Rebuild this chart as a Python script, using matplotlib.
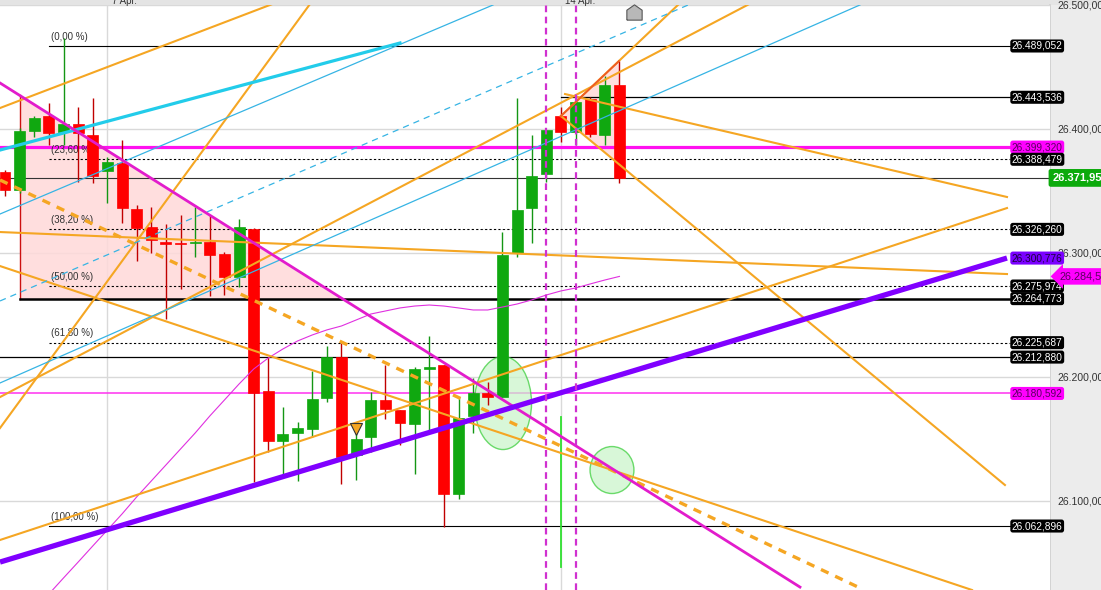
import matplotlib
matplotlib.use("Agg")
import matplotlib.pyplot as plt
from matplotlib.patches import Rectangle, Ellipse, Polygon
from matplotlib.path import Path
from matplotlib.lines import Line2D

plt.rcParams["font.family"] = ["Liberation Sans", "DejaVu Sans"]

# ---- candle data (index 0..42) ----
opens = [26377.2, 26361.2, 26413.6, 26426.9, 26412.7, 26419.8, 26410.0, 26378.1, 26385.2, 26344.3,
         26328.4, 26315.0, 26314.2, 26314.2, 26315.0, 26304.4, 26284.0, 26326.6, 26182.8, 26138.4,
         26145.5, 26149.0, 26176.5, 26213.0, 26125.9, 26141.9, 26174.8, 26165.9, 26153.5, 26202.3,
         26205.8, 26091.3, 26160.6, 26181.0, 26177.4, 26305.3, 26345.2, 26375.4, 26426.9, 26412.7,
         26442.0, 26410.0, 26454.4]
highs = [26379.0, 26416.3, 26426.9, 26438.4, 26496.2, 26434.9, 26442.9, 26390.5, 26405.6, 26347.9,
         26346.1, 26331.0, 26339.0, 26346.1, 26339.0, 26306.2, 26335.5, 26327.5, 26213.0, 26168.6,
         26155.2, 26200.5, 26222.7, 26225.4, 26155.2, 26181.9, 26205.8, 26165.9, 26204.1, 26231.6,
         26205.8, 26177.4, 26194.3, 26190.8, 26323.9, 26442.9, 26410.0, 26414.5, 26434.9, 26443.8,
         26443.8, 26462.4, 26475.7]
lows = [26355.9, 26358.5, 26408.3, 26401.2, 26401.2, 26368.3, 26367.4, 26349.7, 26331.9, 26298.2,
        26305.3, 26246.7, 26273.3, 26301.7, 26267.1, 26268.0, 26275.1, 26102.0, 26128.6, 26109.1,
        26102.9, 26141.9, 26173.0, 26100.2, 26103.7, 26128.6, 26157.9, 26134.8, 26109.1, 26148.1,
        26062.0, 26086.9, 26145.5, 26170.3, 26177.4, 26301.7, 26314.2, 26368.3, 26403.8, 26401.2,
        26408.3, 26401.2, 26367.7]
closes = [26361.2, 26413.6, 26425.1, 26411.8, 26419.8, 26411.8, 26373.6, 26386.1, 26345.2, 26327.5,
          26316.8, 26313.3, 26313.3, 26315.0, 26303.5, 26284.0, 26328.4, 26181.0, 26138.4, 26144.6,
          26149.9, 26175.7, 26213.0, 26124.2, 26140.2, 26174.8, 26166.8, 26154.3, 26202.3, 26204.1,
          26091.3, 26158.8, 26181.0, 26177.4, 26303.5, 26343.4, 26373.6, 26414.5, 26412.7, 26439.3,
          26410.9, 26454.4, 26371.95]

# moving average (thin magenta), candles 3..42
ma_start = 3
ma_values = [26002.5, 26016.8, 26030.9, 26045.2, 26059.4, 26073.6, 26088.7, 26102.9, 26117.1, 26131.3,
             26145.5, 26160.6, 26174.8, 26189.0, 26202.3, 26212.1, 26220.1, 26227.2, 26232.5, 26237.0,
             26240.5, 26245.8, 26251.1, 26253.8, 26256.5, 26258.2, 26259.1, 26258.2, 26256.5, 26254.7,
             26254.7, 26257.3, 26260.0, 26263.6, 26268.0, 26271.6, 26274.2, 26277.8, 26281.3, 26284.5]

# trend lines: (index0, price0, index1, price1)
orange_lines = [(-0.34, 26434.0, 19.0, 26529.9),
                (-0.34, 26149.9, 21.05, 26529.9),
                (-0.34, 26050.5, 68.49, 26345.2),
                (-0.34, 26293.7, 66.1, 26006.1),
                (-0.34, 26323.9, 68.49, 26286.6),
                (38.0, 26426.9, 68.35, 26099.3),
                (38.28, 26446.4, 68.49, 26355.0),
                (-0.34, 26177.4, 51.4, 26529.9),
                (38.0, 26426.9, 46.0, 26525.5)]
orange_dashed = (-0.34, 26370.1, 58.44, 26007.9)
cyan_thick = (-0.34, 26396.7, 27.0, 26491.7)
cyan_thin = [(-0.34, 26339.9, 33.36, 26525.5),
             (-0.34, 26189.9, 58.44, 26525.5)]
cyan_dashed = (-0.34, 26262.7, 46.7, 26525.5)
magenta_line = (-0.34, 26456.2, 54.34, 26008.7)
purple_line = (-0.34, 26030.9, 68.49, 26300.8)

# fibonacci retracement
fib_pcts = ["(0,00 %)", "(23,60 %)", "(38,20 %)", "(50,00 %)", "(61,80 %)", "(100,00 %)"]
fib_values = [26489.052, 26388.479, 26326.260, 26275.974, 26225.687, 26062.896]
fib_start = 3.0

# other horizontal levels
base_level = 26264.773
resist_level = 26443.536
support_level = 26212.880
magenta_hi = 26399.320
magenta_lo = 26180.592
last_price = 26371.95
ma_last = "26.284,52"

# right-hand price tags (value, text, face, text colour)
tags = [(26489.052, "26.489,052", "black", "white"),
        (26443.536, "26.443,536", "black", "white"),
        (26399.320, "26.399,320", "#ff00ff", "#5a0060"),
        (26388.479, "26.388,479", "black", "white"),
        (26326.260, "26.326,260", "black", "white"),
        (26300.776, "26.300,776", "#7a00ff", "#1c0040"),
        (26275.974, "26.275,974", "black", "white"),
        (26264.773, "26.264,773", "black", "white"),
        (26225.687, "26.225,687", "black", "white"),
        (26212.880, "26.212,880", "black", "white"),
        (26180.592, "26.180,592", "#ff00ff", "#5a0060"),
        (26062.896, "26.062,896", "black", "white")]

axis_ticks = [26100, 26200, 26300, 26400, 26500]
axis_labels = ["26.100,00", "26.200,00", "26.300,00", "26.400,00", "26.500,00"]
date_idx = [7, 38]
date_labels = ["7 Apr.", "14 Apr."]
event_idx = [37, 39]

ORANGE = "#f5a623"
TAG_X = 68.7

fig = plt.figure(figsize=(11.01, 5.90), dpi=100)
fig.patch.set_facecolor("white")
fig.add_artist(Rectangle((1050 / 1101, 0), 51 / 1101, 1, transform=fig.transFigure,
                         facecolor="#ececec", edgecolor="none", zorder=-2))
fig.add_artist(Rectangle((0, 585 / 590), 1, 5 / 590, transform=fig.transFigure,
                         facecolor="#e4e4e4", edgecolor="none", zorder=-2))
fig.add_artist(Line2D([1050 / 1101, 1050 / 1101], [0, 585 / 590], transform=fig.transFigure,
                      color="#cfcfcf", lw=1.2, zorder=-1))

pos = [0, 0, 1050 / 1101, 585 / 590]
ax2 = fig.add_axes(pos)
ax = fig.add_axes(pos)
ax2.set_zorder(0)
ax.set_zorder(1)
ax.patch.set_visible(False)

# axis scale + grid
ax2.set_ylim(26028.2, 26500)
ax2.set_yticks(axis_ticks)
ax2.set_yticklabels(axis_labels)
ax2.yaxis.tick_right()
ax2.tick_params(axis="y", length=0, pad=5, labelsize=7.5, labelcolor="#333333")
ax2.set_xticks([])
ax2.grid(axis="y", color="#d9d9d9", lw=1)
for s in ax2.spines.values():
    s.set_visible(False)

ax.set_xlim(-0.342, 71.43)
ax.set_ylim(26006.1, 26525.45)
ax.set_xticks([])
ax.set_yticks([])
for s in ax.spines.values():
    s.set_visible(False)

for d in date_idx:
    ax.axvline(d, color="#d9d9d9", lw=1, zorder=0)
for d, lab in zip(date_idx, date_labels):
    fig.text((5 + d * 14.63) / 1101 + 0.004, 1 - 1.5 / 590, lab, fontsize=7, color="#333333",
             va="center", ha="left")

# fib triangle
ax.add_patch(Polygon([(1.03, 26445.5), (1.03, base_level), (22.9, base_level)],
                     closed=True, facecolor="#ffd9d9", edgecolor="none", alpha=0.85, zorder=1))
ax.plot([1.03, 1.03], [26445.5, base_level], color="#cc1010", lw=1, zorder=2)
# recent triangle
ax.add_patch(Polygon([(38.0, 26426.9), (41.97, 26475.7), (41.97, 26384.3)],
                     closed=True, facecolor="#ffd9d9", edgecolor="none", alpha=0.85, zorder=1))

# horizontal levels
for v, pct in zip(fib_values, fib_pcts):
    ls = "-" if pct in ("(0,00 %)", "(100,00 %)") else (0, (2, 2))
    ax.plot([fib_start, TAG_X], [v, v], color="black", lw=0.8, ls=ls, zorder=2)
    ax.annotate(pct, (fib_start + 0.15, v), xytext=(0, 3), textcoords="offset points",
                fontsize=7, color="#333333", va="bottom", ha="left", zorder=3)
ax.plot([1.03, TAG_X], [base_level, base_level], color="black", lw=1.8, zorder=2)
ax.plot([38.0, TAG_X], [resist_level, resist_level], color="black", lw=0.9, zorder=2)
ax.plot([-0.342, TAG_X], [support_level, support_level], color="black", lw=0.9, zorder=2)
ax.plot([-0.342, TAG_X], [magenta_hi, magenta_hi], color="#ff10f0", lw=2.3, zorder=2)
ax.plot([-0.342, TAG_X], [magenta_lo, magenta_lo], color="#ff30f0", lw=1.1, zorder=2)
ax.plot([-0.342, 71.43], [last_price, last_price], color="#333333", lw=0.8, zorder=2)

# ellipses
ax.add_patch(Ellipse((34.04, 26172.1), 3.9, 82.6, facecolor="#c8f5c8", alpha=0.7,
                     edgecolor="#33cc33", lw=1, zorder=2))
ax.add_patch(Ellipse((41.49, 26112.6), 3.0, 41.7, facecolor="#c8f5c8", alpha=0.7,
                     edgecolor="#33cc33", lw=1, zorder=2))

# candles
idx = list(range(len(opens)))
up = [c >= o for o, c in zip(opens, closes)]
body_col = ["#10a810" if u else "#ff0000" for u in up]
wick_col = ["#149614" if u else "#c00000" for u in up]
ax.vlines(idx, lows, highs, colors=wick_col, lw=1, zorder=3)
heights = [max(abs(c - o), 1.6) for o, c in zip(opens, closes)]
bottoms = [min(o, c) if abs(c - o) >= 1.6 else (o + c) / 2 - 0.8 for o, c in zip(opens, closes)]
ax.bar(idx, heights, bottom=bottoms, width=0.75, color=body_col, edgecolor=body_col, lw=0.5, zorder=4)

# spike and markers
ax.plot([38.0, 38.0], [26026.5, 26159.7], color="#30e030", lw=1.3, zorder=4)
ax.plot(24.0, 26149.0, marker="v", markersize=8, color=ORANGE, markeredgecolor="#333333",
        markeredgewidth=0.8, zorder=6)
house = Path([(-1, -1), (1, -1), (1, 0.3), (0, 1), (-1, 0.3), (-1, -1)])
ax.plot(43.0, 26519.2, marker=house, markersize=11, color="#b8b8b8", markeredgecolor="#555555",
        markeredgewidth=0.8, zorder=6, clip_on=False)

# moving average
ma_idx = list(range(ma_start, ma_start + len(ma_values)))
ax.plot(ma_idx, ma_values, color="#e030e0", lw=0.8, zorder=5)

# trend lines
for x0, y0, x1, y1 in orange_lines:
    ax.plot([x0, x1], [y0, y1], color=ORANGE, lw=1.5, zorder=5)
ax.plot([38.0, 41.97], [26426.9, 26475.7], color="#ee5a24", lw=1.3, zorder=5)
ax.plot([orange_dashed[0], orange_dashed[2]], [orange_dashed[1], orange_dashed[3]],
        color=ORANGE, lw=2.4, ls=(0, (2.5, 2.2)), zorder=5)
for x0, y0, x1, y1 in cyan_thin:
    ax.plot([x0, x1], [y0, y1], color="#36b4e4", lw=0.9, zorder=5)
ax.plot([cyan_dashed[0], cyan_dashed[2]], [cyan_dashed[1], cyan_dashed[3]],
        color="#36b4e4", lw=0.9, ls=(0, (5, 4)), zorder=5)
ax.plot([cyan_thick[0], cyan_thick[2]], [cyan_thick[1], cyan_thick[3]],
        color="#22ccea", lw=2.3, zorder=5)
ax.plot([magenta_line[0], magenta_line[2]], [magenta_line[1], magenta_line[3]],
        color="#e21ccc", lw=2.0, zorder=5)
ax.plot([purple_line[0], purple_line[2]], [purple_line[1], purple_line[3]],
        color="#8000ff", lw=3.8, solid_capstyle="butt", zorder=5)
for e in event_idx:
    ax.axvline(e, color="#d030d0", lw=1.6, ls=(0, (3, 2)), zorder=6)

# price tags
for v, txt, fc, tc in tags:
    ax.text(TAG_X + 0.12, v, txt, fontsize=7.3, color=tc, va="center", ha="left", zorder=8,
            bbox=dict(boxstyle="round,pad=0.15,rounding_size=0.25", fc=fc, ec="none"))
ax.text(71.6, last_price, "26.371,95", fontsize=8, fontweight="bold", color="white",
        va="center", ha="left", zorder=8,
        bbox=dict(boxstyle="round,pad=0.35,rounding_size=0.2", fc="#0caa0c", ec="none"))
ax.text(72.1, ma_values[-1], ma_last, fontsize=7.8, color="#5a0060", va="center", ha="left",
        zorder=8, bbox=dict(boxstyle="larrow,pad=0.3", fc="#ff00ff", ec="none"))

fig.savefig("out.png", dpi=100)
